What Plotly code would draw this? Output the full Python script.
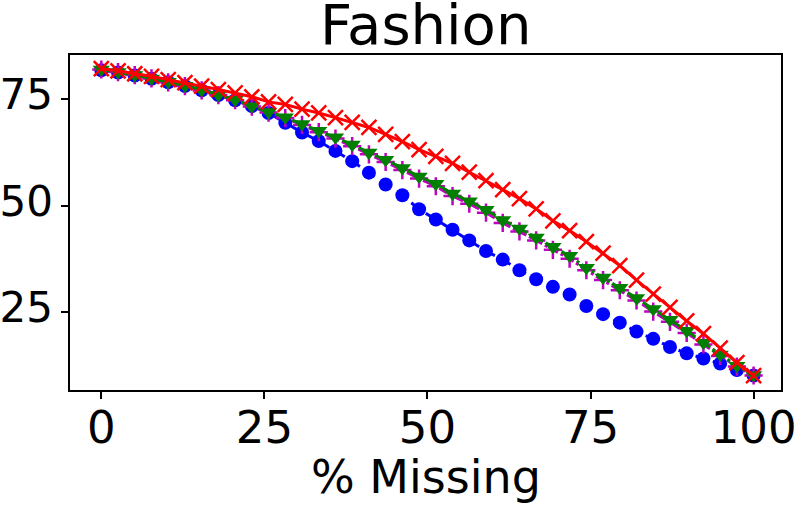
import numpy as np
import plotly.graph_objects as go

missing_pct = list(np.linspace(0, 100, 40))

blue_vals = [81.8, 81.3, 80.6, 79.8, 79.0, 78.1, 77.1, 76.0, 74.8, 73.4,
             71.8, 69.5, 67.2, 65.2, 62.9, 60.5, 57.8, 55.0, 52.5, 49.2,
             46.8, 44.4, 41.9, 39.4, 37.4, 34.9, 32.8, 31.0, 29.2, 26.5,
             24.6, 22.6, 20.5, 18.8, 16.9, 15.4, 14.2, 13.0, 11.5, 10.2]

green_vals = [82.0, 81.4, 80.7, 79.9, 79.1, 78.2, 77.2, 76.1, 74.9, 73.4,
              72.0, 70.8, 69.2, 67.6, 66.1, 64.4, 62.5, 60.8, 58.9, 56.9,
              55.2, 52.9, 51.1, 49.1, 46.7, 44.7, 42.6, 40.4, 38.3, 35.5,
              33.2, 30.8, 28.4, 25.8, 23.3, 20.7, 17.9, 15.1, 12.5, 10.3]

magenta_vals = [82.0, 81.4, 80.7, 79.9, 79.0, 78.1, 77.1, 76.0, 74.8, 73.3,
                71.9, 70.6, 69.0, 67.3, 65.8, 64.0, 62.1, 60.3, 58.4, 56.4,
                54.6, 52.3, 50.5, 48.4, 46.0, 44.0, 41.9, 39.7, 37.6, 34.9,
                32.6, 30.2, 27.8, 25.2, 22.8, 20.2, 17.5, 14.8, 12.3, 10.2]

red_vals = [82.2, 81.7, 81.0, 80.4, 79.6, 78.9, 78.1, 77.3, 76.5, 75.6,
            74.4, 73.8, 72.7, 71.8, 70.7, 69.6, 68.4, 66.8, 65.1, 63.2,
            61.6, 60.0, 57.9, 55.9, 53.8, 51.7, 49.3, 46.5, 44.2, 41.6,
            38.9, 36.0, 32.6, 29.3, 26.2, 23.0, 20.0, 16.6, 13.2, 10.2]

x_ticks = [0, 25, 50, 75, 100]
y_ticks = [25, 50, 75]

fig = go.Figure()
fig.add_trace(go.Scatter(x=missing_pct, y=blue_vals, mode="lines+markers",
                         line=dict(color="blue", width=3, dash="dash"),
                         marker=dict(symbol="circle", size=14, color="blue")))
fig.add_trace(go.Scatter(x=missing_pct, y=magenta_vals, mode="lines+markers",
                         line=dict(color="#bf00bf", width=3, dash="dashdot"),
                         marker=dict(symbol="cross-thin", size=13,
                                     line=dict(color="#bf00bf", width=2.5))))
fig.add_trace(go.Scatter(x=missing_pct, y=green_vals, mode="lines+markers",
                         line=dict(color="green", width=3, dash="dashdot"),
                         marker=dict(symbol="triangle-down", size=15, color="green")))
fig.add_trace(go.Scatter(x=missing_pct, y=red_vals, mode="lines+markers",
                         line=dict(color="red", width=3),
                         marker=dict(symbol="x-thin", size=15,
                                     line=dict(color="red", width=2.5))))

axis_common = dict(showline=True, linecolor="black", linewidth=1.5, mirror=True,
                   ticks="outside", ticklen=7, tickwidth=1.5, tickcolor="black",
                   showgrid=False, zeroline=False, automargin=False,
                   ticklabeloverflow="allow")

fig.update_layout(
    width=796, height=505,
    margin=dict(l=70, r=15, t=55, b=115),
    plot_bgcolor="white", paper_bgcolor="white",
    showlegend=False,
    xaxis=dict(range=[-4.8, 104.2], tickvals=x_ticks, ticklabelstandoff=-10,
               tickfont=dict(family="DejaVu Sans", size=45, color="black"),
               **axis_common),
    yaxis=dict(range=[6.8, 85.4], tickvals=y_ticks, ticklabelshift=-5,
               tickfont=dict(family="DejaVu Sans", size=42, color="black"),
               **axis_common),
    annotations=[
        dict(text="Fashion", xref="paper", yref="paper", x=0.5, y=1,
             yshift=31, xanchor="center", yanchor="middle", showarrow=False,
             font=dict(family="DejaVu Sans", size=56, color="black")),
        dict(text="% Missing", xref="paper", yref="paper", x=0.5, y=0,
             yshift=-87, xanchor="center", yanchor="middle", showarrow=False,
             font=dict(family="DejaVu Sans", size=46, color="black")),
    ],
)

fig.write_html("out.html")
